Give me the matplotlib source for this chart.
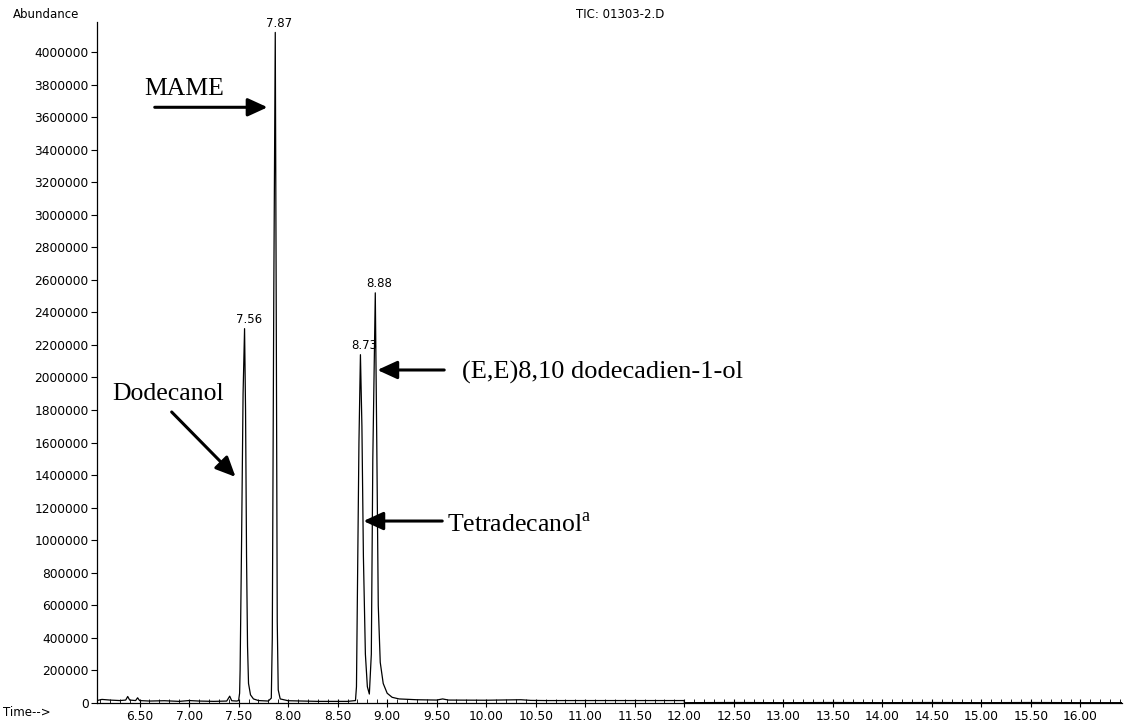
import matplotlib
matplotlib.use("Agg")
import matplotlib.pyplot as plt
from matplotlib.ticker import MultipleLocator, FixedLocator
import numpy as np

plt.rcParams["mathtext.fontset"] = "custom"
plt.rcParams["mathtext.rm"] = "Liberation Serif"

# ---- data ----
time_min = [6.07, 6.12, 6.20, 6.30, 6.36, 6.38, 6.40, 6.46, 6.48, 6.50, 6.60, 6.75, 6.90,
            7.00, 7.10, 7.25, 7.38, 7.41, 7.43, 7.48,
            7.50, 7.51, 7.515, 7.53, 7.545, 7.56, 7.57, 7.58, 7.59, 7.60, 7.62, 7.65, 7.70,
            7.80, 7.83, 7.84, 7.855, 7.87, 7.88, 7.89, 7.90, 7.92, 8.00, 8.30, 8.60,
            8.68, 8.69, 8.70, 8.715, 8.73, 8.745, 8.76, 8.78, 8.80, 8.82,
            8.84, 8.855, 8.88, 8.895, 8.91, 8.93, 8.96, 9.00, 9.05, 9.12,
            9.30, 9.50, 9.56, 9.62, 10.00, 10.35, 10.45, 10.60, 11.00, 11.50, 12.00,
            12.001, 12.50, 13.00, 13.50, 14.00, 14.50, 15.00, 15.50, 16.00, 16.42]
abundance = [15000, 22000, 18000, 15000, 18000, 40000, 18000, 15000, 32000, 15000, 12000, 14000, 10000,
             15000, 12000, 10000, 12000, 42000, 14000, 12000,
             15000, 60000, 200000, 1000000, 1900000, 2300000, 1800000, 900000, 350000, 120000, 50000, 25000, 15000,
             12000, 30000, 400000, 2500000, 4120000, 2400000, 500000, 80000, 25000, 14000, 10000, 10000,
             15000, 100000, 700000, 1600000, 2140000, 1700000, 900000, 300000, 100000, 55000,
             300000, 1500000, 2520000, 1600000, 600000, 250000, 120000, 60000, 35000, 25000,
             20000, 18000, 25000, 18000, 17000, 20000, 16000, 15000, 15000, 15000, 15000,
             2000, 3000, 2000, 3000, 2000, 3000, 2000, 3000, 2000, 2000]

peak_times = [7.56, 7.87, 8.73, 8.88]
peak_heights = [2300000, 4120000, 2140000, 2520000]
peak_labels = ["7.56", "7.87", "8.73", "8.88"]

compounds = ["MAME", "Dodecanol", "(E,E)8,10 dodecadien-1-ol", "Tetradecanol$^{\\mathrm{a}}$"]

x_major = np.arange(6.5, 16.01, 0.5)
x_tick_labels = ["%.2f" % v for v in x_major]
y_major = np.arange(0, 4000001, 200000)
y_tick_labels = ["%d" % v for v in y_major]

# ---- figure ----
W, H = 1124, 721
fig = plt.figure(figsize=(W / 100, H / 100), dpi=100)
ax_l, ax_r, ax_t, ax_b = 97, 1122, 22, 703
ax = fig.add_axes([ax_l / W, 1 - ax_b / H, (ax_r - ax_l) / W, (ax_b - ax_t) / H])

ax.plot(time_min, abundance, color="black", lw=0.9)
ax.set_xlim(6.07, 16.42)
ax.set_ylim(0, 4184000)

for s in ["top", "right"]:
    ax.spines[s].set_visible(False)
for s in ["left", "bottom"]:
    ax.spines[s].set_linewidth(0.9)

sans = "DejaVu Sans"
ax.xaxis.set_major_locator(FixedLocator(x_major))
ax.set_xticklabels(x_tick_labels, fontsize=8.8, family=sans)
ax.xaxis.set_minor_locator(MultipleLocator(0.1))
ax.yaxis.set_major_locator(FixedLocator(y_major))
ax.set_yticklabels(y_tick_labels, fontsize=8.8, family=sans)
ax.tick_params(axis="x", which="major", direction="inout", length=6, width=0.8, pad=2)
ax.tick_params(axis="x", which="minor", direction="in", length=3, width=0.6)
ax.tick_params(axis="y", which="major", direction="out", length=4, width=0.8, pad=2)

# peak retention-time labels
for t, h, lab in zip(peak_times, peak_heights, peak_labels):
    ax.annotate(lab, xy=(t, h), xytext=(3, 2), textcoords="offset points",
                ha="center", va="bottom", fontsize=8.5, family=sans)

serif = "Liberation Serif"
fs = 18.5
arrow = dict(arrowstyle="-|>,head_length=1.2,head_width=0.55", lw=2.2,
             color="black", mutation_scale=10, shrinkA=0, shrinkB=0)

# MAME
ax.text(6.955, 3770000, compounds[0], fontsize=fs, family=serif, ha="center", va="center")
ax.annotate("", xy=(7.792, 3660000), xytext=(6.653, 3660000), arrowprops=arrow)
# Dodecanol
ax.text(6.79, 1900000, compounds[1], fontsize=fs, family=serif, ha="center", va="center")
ax.annotate("", xy=(7.469, 1389000), xytext=(6.824, 1788000), arrowprops=arrow)
# diene
ax.text(9.758, 2030000, compounds[2], fontsize=fs + 0.5, family=serif, ha="left", va="center")
ax.annotate("", xy=(8.901, 2046000), xytext=(9.576, 2046000), arrowprops=arrow)
# tetradecanol
ax.text(9.606, 1094000, compounds[3], fontsize=fs, family=serif, ha="left", va="center")
ax.annotate("", xy=(8.760, 1118000), xytext=(9.556, 1118000), arrowprops=arrow)

# header / axis captions
fig.text(13 / W, 1 - 15 / H, "Abundance", fontsize=8.5, family=sans, ha="left", va="center")
fig.text(620 / W, 1 - 15 / H, "TIC: 01303-2.D", fontsize=8.5, family=sans, ha="center", va="center")
fig.text(3 / W, 1 - 713 / H, "Time-->", fontsize=8.5, family=sans, ha="left", va="center")

fig.savefig("out.png", dpi=100)
